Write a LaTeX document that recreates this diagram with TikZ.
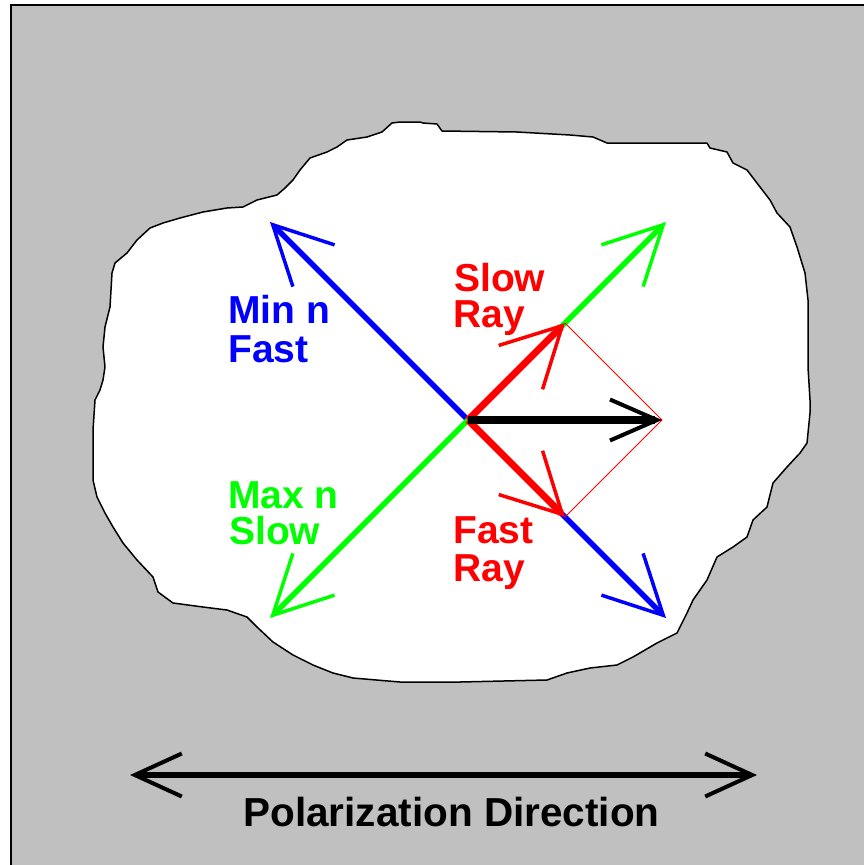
\documentclass[tikz,border=0pt]{standalone}
\usepackage{fontspec}
\setmainfont{Liberation Sans}
\usetikzlibrary{arrows.meta}
\definecolor{bggray}{RGB}{192,192,192}
\definecolor{pblue}{RGB}{0,0,255}
\definecolor{pgreen}{RGB}{0,255,0}
\definecolor{pred}{RGB}{255,0,0}
\begin{document}
\begin{tikzpicture}[x=1pt,y=-1pt,
  lbl/.style={inner sep=0pt, anchor=base west, font=\fontsize{39}{39}\selectfont\bfseries},
  axisarrow/.style={line width=5.5pt, -{Straight Barb[length=58pt,width=59pt,line width=3.5pt 0]}},
  rayarrow/.style={line width=7pt, color=pred, -{Straight Barb[length=59pt,width=62pt,line width=3.5pt 0]}},
  resarrow/.style={line width=7.5pt, -{Straight Barb[length=47pt,width=41pt,line width=4pt 0]}},
  polarrow/.style={line width=6.5pt, {Straight Barb[length=47pt,width=43pt,line width=4pt 0]}-{Straight Barb[length=47pt,width=43pt,line width=4pt 0]}},
  thinred/.style={line width=1pt, color=pred}
]
\useasboundingbox (0,0) rectangle (864,865);
\fill[white] (0,0) rectangle (864,865);
\begin{scope}
\clip (0,0) rectangle (864,865);
\draw[fill=bggray, line width=2pt] (11,5) rectangle (880,880);
\end{scope}
% grain outline
\draw[fill=white, line width=1.5pt, line join=round] plot coordinates {
(400,122) (420,122) (423,123) (437,124) (442,131) (517,132) (570,135) (593,137) (607,143) (707,143) (710,148) (727,152) (733,163) (747,170) (760,187) (770,200) (777,213) (790,227) (797,247) (805,273) (808,300) (808,367) (810,400) (810,413) (807,443) (800,453) (787,467) (773,483) (767,507) (753,520) (747,537) (733,547) (717,557) (707,580) (693,600) (687,613) (677,633) (657,643) (633,657) (617,665) (590,668) (567,673) (547,680) (460,682) (400,682) (353,678) (333,673) (313,665) (293,655) (273,642) (257,627) (247,617) (227,610) (203,607) (173,603) (158,592) (153,577) (137,560) (123,543) (113,527) (105,513) (97,497) (93,480) (93,430) (95,400) (100,390) (103,380) (105,367) (103,347) (105,327) (110,307) (112,273) (115,263) (127,253) (137,240) (150,228) (163,223) (180,218) (203,212) (227,208) (243,207) (257,200) (277,195) (285,188) (293,180) (300,170) (310,158) (327,152) (337,147) (347,140) (367,137) (382,132) (392,123)} -- cycle;

% key points
\coordinate (O) at (468,420);
\coordinate (UL) at (270,222);
\coordinate (LR) at (666,618);
\coordinate (LL) at (270,618);
\coordinate (UR) at (666,222);
\coordinate (S) at (565,323);
\coordinate (F) at (565,517);
\coordinate (R) at (662,420);
\coordinate (PL) at (130,775);
\coordinate (PR) at (757,775);

% optical axes
\draw[axisarrow, pblue] (O) -- (UL);
\draw[axisarrow, pblue] (O) -- (LR);
\draw[axisarrow, pgreen] (O) -- (LL);
\draw[axisarrow, pgreen] (O) -- (UR);
% rays
\draw[rayarrow] (O) -- (S);
\draw[rayarrow] (O) -- (F);
\draw[thinred] (S) -- (R) -- (F);
% resultant
\draw[resarrow] (O) -- (R);
% polarization
\draw[polarrow] (PL) -- (PR);

% labels
\node[lbl, pblue] (min) at (228,323) {Min n};
\node[lbl, pblue] (fastb) at (228,362) {Fast};
\node[lbl, pgreen] (max) at (228,508) {Max n};
\node[lbl, pgreen] (slowg) at (229,544) {Slow};
\node[lbl, pred] (slowr) at (454,291) {Slow};
\node[lbl, pred] (rays) at (453,327) {Ray};
\node[lbl, pred] (fastr) at (453,543) {Fast};
\node[lbl, pred] (rayf) at (453,581) {Ray};
\node[inner sep=0pt, anchor=base, font=\fontsize{40.5}{40}\selectfont\bfseries] (pol) at (451.5,826) {Polarization Direction};
\end{tikzpicture}
\end{document}
